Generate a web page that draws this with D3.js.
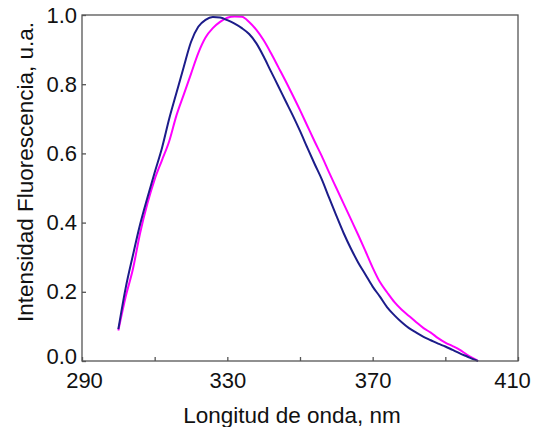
<!DOCTYPE html>
<html>
<head>
<meta charset="utf-8">
<script src="https://cdn.jsdelivr.net/npm/d3@7"></script>
<style>
  body { margin: 0; background: #fff; }
  text { font-family: "Liberation Sans", Arial, sans-serif; fill: #111; }
</style>
</head>
<body>
<div id="chart"></div>
<script>
// wavelength (nm) and normalised fluorescence
const wlBlue = [300,302,304,306,308,310,312,314,316,318,320,322,324,326,328,330,332,334,336,338,340,342,344,346,348,350,352,354,356,358,360,362,364,366,368,370,372,374,376,378,380,382,384,386,388,390,392,394,396,398,399];
const blueVals = [0.092,0.21,0.305,0.395,0.472,0.545,0.615,0.70,0.775,0.85,0.922,0.966,0.986,0.994,0.993,0.985,0.975,0.962,0.945,0.918,0.88,0.837,0.795,0.752,0.71,0.665,0.617,0.57,0.525,0.472,0.42,0.37,0.325,0.285,0.25,0.215,0.186,0.155,0.132,0.112,0.095,0.082,0.07,0.06,0.05,0.042,0.032,0.022,0.013,0.004,0.0];

const wlPink = [300,302,304,306,308,310,312,314,316,318,320,322,324,326,328,330,332,334,336,338,340,342,344,346,348,350,352,354,356,358,360,362,364,366,368,370,372,374,376,378,380,382,384,386,388,390,392,394,396,398,399];
const pinkVals = [0.088,0.185,0.265,0.37,0.455,0.525,0.58,0.635,0.71,0.77,0.83,0.89,0.935,0.962,0.98,0.992,0.996,0.995,0.98,0.957,0.927,0.89,0.85,0.81,0.768,0.725,0.68,0.635,0.592,0.545,0.50,0.455,0.41,0.365,0.318,0.27,0.228,0.198,0.17,0.148,0.13,0.112,0.095,0.082,0.066,0.053,0.043,0.032,0.018,0.006,0.0];

const xTicks = [290,310,330,350,370,390,410];
const xLabels = [290,330,370,410];
const yTicks = [0,0.2,0.4,0.6,0.8,1.0];

const W = 535, H = 427;
const margin = {top: 15, right: 17, bottom: 66, left: 82};
const width = W - margin.left - margin.right;
const height = H - margin.top - margin.bottom;

const svg = d3.select("#chart").append("svg")
    .attr("width", W)
    .attr("height", H);

const g = svg.append("g")
    .attr("transform", "translate(" + margin.left + "," + margin.top + ")");

const x = d3.scaleLinear().domain([290, 410]).range([0, width]);
const y = d3.scaleLinear().domain([0, 1]).range([height, 0]);

// curves
const line = d3.line()
    .curve(d3.curveMonotoneX)
    .x(d => x(d[0]))
    .y(d => y(d[1]));

g.append("path")
    .datum(wlPink.map((w, i) => [w, pinkVals[i]]))
    .attr("fill", "none")
    .attr("stroke", "#ff00ff")
    .attr("stroke-width", 2)
    .attr("d", line);

g.append("path")
    .datum(wlBlue.map((w, i) => [w, blueVals[i]]))
    .attr("fill", "none")
    .attr("stroke", "#1c1c8a")
    .attr("stroke-width", 2)
    .attr("d", line);

// frame
g.append("rect")
    .attr("width", width)
    .attr("height", height)
    .attr("fill", "none")
    .attr("stroke", "#555")
    .attr("stroke-width", 1.3);

// axes, ticks inward
const xAxis = d3.axisBottom(x)
    .tickValues(xTicks)
    .tickSize(-4)
    .tickPadding(11)
    .tickFormat(d => xLabels.includes(d) ? d : "");

const yAxis = d3.axisLeft(y)
    .tickValues(yTicks)
    .tickSize(-4)
    .tickPadding(5)
    .tickFormat(d3.format(".1f"));

const gx = g.append("g")
    .attr("transform", "translate(0," + height + ")")
    .call(xAxis);
const gy = g.append("g").call(yAxis);

[gx, gy].forEach(a => {
    a.select(".domain").remove();
    a.selectAll(".tick line").attr("stroke", "#555").attr("stroke-width", 1.3);
    a.selectAll(".tick text").attr("font-size", 22).style("font-family", "Liberation Sans, Arial, sans-serif");
});
gx.selectAll(".tick text").filter(d => d === 410).attr("dx", -6);
gx.selectAll(".tick text").filter(d => d === 290).attr("dx", 2);
gy.selectAll(".tick text").filter(d => d === 0).attr("dy", "0.1em");

// axis titles
svg.append("text")
    .attr("x", 292)
    .attr("y", 423)
    .attr("text-anchor", "middle")
    .attr("font-size", 22.5)
    .text("Longitud de onda, nm");

svg.append("text")
    .attr("transform", "translate(33,172) rotate(-90)")
    .attr("text-anchor", "middle")
    .attr("font-size", 22.5)
    .text("Intensidad Fluorescencia, u.a.");
</script>
</body>
</html>
